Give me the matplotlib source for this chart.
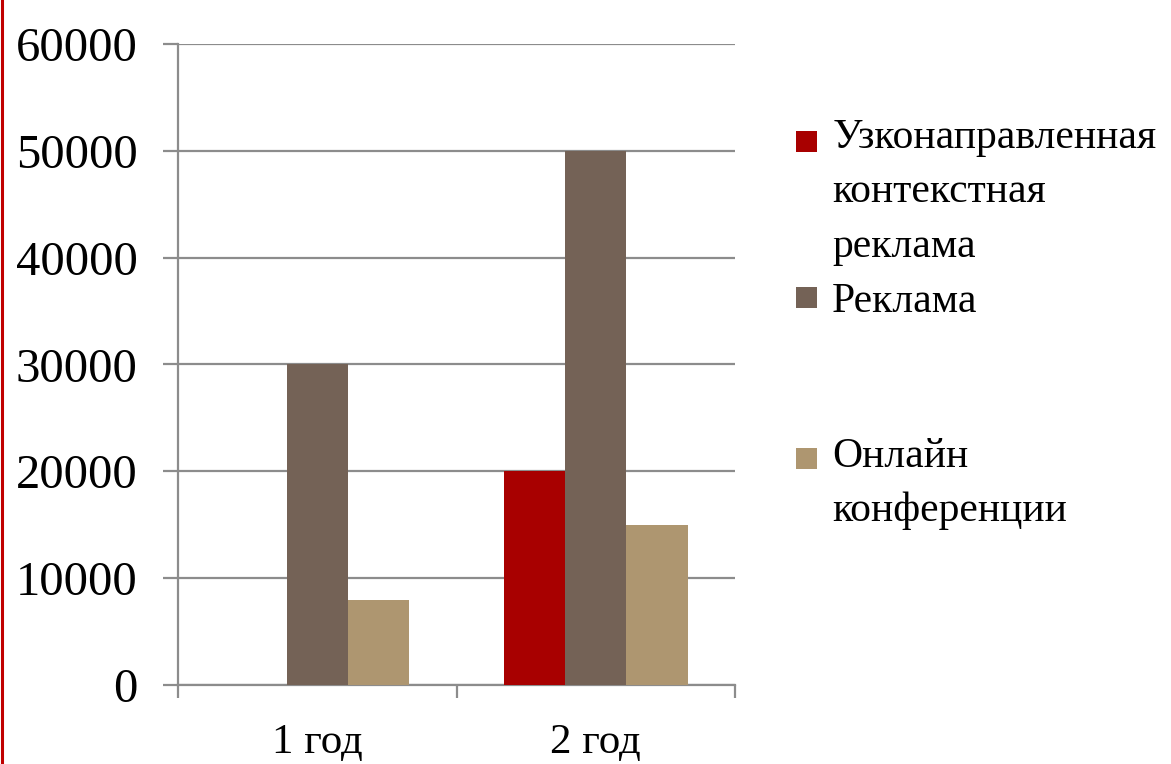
import matplotlib
matplotlib.use("Agg")
import matplotlib.pyplot as plt
import numpy as np
from matplotlib.patches import Rectangle
from matplotlib.legend_handler import HandlerPatch
from matplotlib.lines import Line2D

categories = ["1 год", "2 год"]
series_names = ["Узконаправленная\nконтекстная\nреклама", "Реклама", "Онлайн\nконференции"]
narrow_ads = [0, 20000]
ads = [30000, 50000]
online_conf = [8000, 15000]
yticks = [0, 10000, 20000, 30000, 40000, 50000, 60000]

colors = ["#A80000", "#746256", "#AE9670"]
grid_color = "#8C8C8C"

plt.rcParams['font.family'] = ['Liberation Serif', 'DejaVu Serif']

fig = plt.figure(figsize=(11.71, 7.64), dpi=100)
ax = fig.add_axes([178/1171, 1-685/764, (735-178)/1171, (685-44)/764])

x = np.arange(len(categories))
w = 0.22
data = [narrow_ads, ads, online_conf]
bars = []
for i, (vals, c) in enumerate(zip(data, colors)):
    b = ax.bar(x + (i - 1) * w, vals, width=w, color=c, zorder=3)
    bars.append(b)

ax.set_xlim(-0.5, 1.5)
ax.set_ylim(0, 60000)
ax.set_yticks(yticks)
ax.set_yticklabels([str(v) for v in yticks], fontsize=35)
ax.yaxis.grid(True, color=grid_color, linewidth=1.6, zorder=0)
ax.set_axisbelow(True)
ax.set_xticks(x)
ax.set_xticklabels(categories, fontsize=31)
ax.set_xticks([-0.5, 0.5, 1.5], minor=True)
ax.tick_params(axis='x', which='major', length=0, pad=28)
ax.tick_params(axis='x', which='minor', length=9, width=1.6, color=grid_color)
ax.tick_params(axis='y', length=11, width=1.6, color=grid_color, pad=18)
for s in ['top', 'right']:
    ax.spines[s].set_visible(False)
for s in ['left', 'bottom']:
    ax.spines[s].set_color(grid_color)
    ax.spines[s].set_linewidth(1.6)


class TopHandler(HandlerPatch):
    def __init__(self, shift_pt, **kw):
        super().__init__(**kw)
        self.shift_pt = shift_pt

    def create_artists(self, legend, orig_handle, xdescent, ydescent, width, height, fontsize, trans):
        side = 15
        p = Rectangle((-xdescent + width - side - 2, -ydescent + (height - side) / 2 + self.shift_pt),
                      side, side, facecolor=orig_handle.get_facecolor(),
                      edgecolor='none', transform=trans)
        return [p]


legend_pos = [(124, 3), (288, 1), (443, 2)]
line_px = 51
for (ytop, nlines), b, name in zip(legend_pos, bars, series_names):
    handle = b.patches[0]
    shift = (nlines - 1) * line_px / 2 * 72 / 100
    leg = fig.legend([handle], [name], loc='upper left',
                     bbox_to_anchor=(778/1171, 1 - (ytop - 5.5)/764),
                     frameon=False, fontsize=30, handlelength=1.0, handletextpad=0.3,
                     borderpad=0, borderaxespad=0,
                     handler_map={handle: TopHandler(shift)})
    for t in leg.get_texts():
        t.set_linespacing(1.54)

fig.add_artist(Line2D([1.5/1171, 1.5/1171], [0, 1], transform=fig.transFigure,
                      color="#C00000", linewidth=2.2))

fig.savefig("out.png", dpi=100)
